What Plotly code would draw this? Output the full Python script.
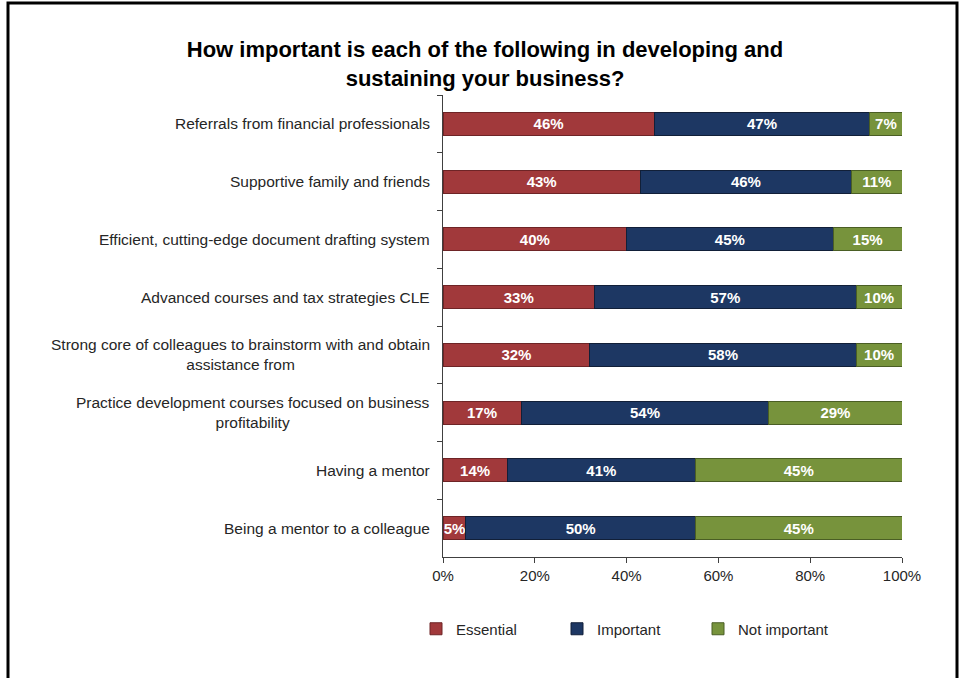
import plotly.graph_objects as go

# Survey items, top to bottom
categories = [
    "Referrals from financial professionals",
    "Supportive family and friends",
    "Efficient, cutting-edge document drafting system",
    "Advanced courses and tax strategies CLE",
    "Strong core of colleagues to brainstorm with and obtain<br>assistance from",
    "Practice development courses focused on business<br>profitability",
    "Having a mentor",
    "Being a mentor to a colleague",
]

essential = [46, 43, 40, 33, 32, 17, 14, 5]
important = [47, 46, 45, 57, 58, 54, 41, 50]
not_important = [7, 11, 15, 10, 10, 29, 45, 45]

x_ticks = [0, 20, 40, 60, 80, 100]
x_tick_labels = ["0%", "20%", "40%", "60%", "80%", "100%"]

series = [
    ("Essential", essential, "#A1393B", "#6e2426"),
    ("Important", important, "#1D3763", "#111f38"),
    ("Not important", not_important, "#77933C", "#4a5e24"),
]

FONT = "Liberation Sans, Arial, sans-serif"
W, H = 964, 678
L, R, T, B = 443, 62, 95, 121
pw, ph = W - L - R, H - T - B

fig = go.Figure()
for name, vals, color, edge in series:
    fig.add_trace(go.Bar(
        y=categories, x=vals, name=name, orientation="h",
        marker=dict(color=color, line=dict(color=edge, width=1)),
        text=[f"{v}%" for v in vals],
        textposition="inside", insidetextanchor="middle",
        constraintext="none", textangle=0,
        textfont=dict(family=FONT, size=15, color="white", weight="bold"),
        hoverinfo="x+name",
    ))

# Category labels, centred line by line like wrapped labels
annotations = [
    dict(x=-11 / pw, xref="paper", y=c, yref="y", text=c, showarrow=False,
         xanchor="right", yanchor="middle", align="center",
         font=dict(family=FONT, size=15.5, color="#262626"))
    for c in categories
]


def px_x(p):
    return (p - L) / pw


def px_y(p):
    return (H - B - p) / ph


# Outer frame (open at the bottom)
frame = dict(
    type="path", xref="paper", yref="paper",
    path=(f"M {px_x(8)} {px_y(700)} L {px_x(8)} {px_y(3)} "
          f"L {px_x(957)} {px_y(3)} L {px_x(957)} {px_y(700)}"),
    line=dict(color="black", width=3),
)

fig.update_layout(
    width=W, height=H,
    margin=dict(l=L, r=R, t=T, b=B),
    barmode="stack", bargap=0.6,
    paper_bgcolor="white", plot_bgcolor="white",
    title=dict(
        text="How important is each of the following in developing and<br>sustaining your business?",
        x=485 / W, xanchor="center", xref="container",
        y=1 - 57 / H, yanchor="middle", yref="container",
        font=dict(family=FONT, size=22, color="black", weight="bold"),
    ),
    xaxis=dict(
        range=[0, 100], tickvals=x_ticks, ticktext=x_tick_labels,
        showgrid=False, zeroline=False, showline=True, linecolor="#404040",
        linewidth=1, ticks="outside", ticklen=5, tickcolor="#404040",
        tickfont=dict(family=FONT, size=15, color="#262626"),
        fixedrange=True,
    ),
    yaxis=dict(
        autorange="reversed", showticklabels=False, showgrid=False,
        showline=True, linecolor="#404040", linewidth=1,
        ticks="outside", ticklen=5, tickcolor="#404040",
        tickson="boundaries", fixedrange=True,
    ),
    legend=dict(
        orientation="h", x=px_x(416), xanchor="left",
        y=px_y(629), yanchor="middle",
        entrywidth=96, entrywidthmode="pixels",
        font=dict(family=FONT, size=15, color="#262626"),
        traceorder="normal",
    ),
    annotations=annotations,
    shapes=[frame],
    showlegend=True,
)

fig.write_html("out.html")
